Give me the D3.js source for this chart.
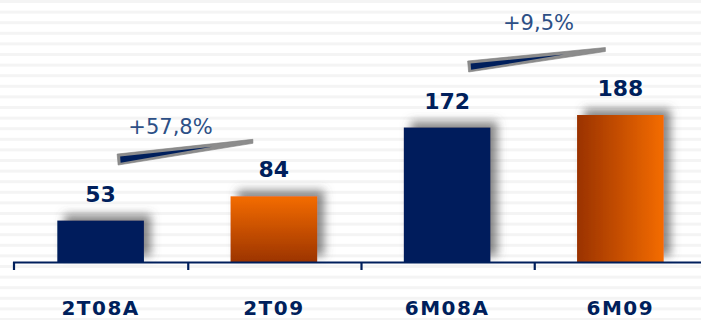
<!DOCTYPE html>
<html>
<head>
<meta charset="utf-8">
<script src="https://cdn.jsdelivr.net/npm/d3@7"></script>
<style>
  html, body { margin: 0; padding: 0; background: #fff; }
  svg { display: block; font-family: "DejaVu Sans", Verdana, sans-serif; }
</style>
</head>
<body>
<svg id="chart" width="701" height="320"></svg>
<script>
// Periods and their values
const categories = ["2T08A", "2T09", "6M08A", "6M09"];
const values = [53, 84, 172, 188];
// Fill style per bar: solid navy, vertical orange, solid navy, horizontal orange
const fillKinds = ["navy", "orangeV", "navy", "orangeH"];
// Growth annotations between pairs of bars
const growthFrom = [0, 2];
const growthTo = [1, 3];
const growthLabels = ["+57,8%", "+9,5%"];

const W = 701, H = 320;
const navy = "#001f5c";
const svg = d3.select("#chart");
const defs = svg.append("defs");

// Striped background
const stripeY = d3.range(0, H, 10.6);
svg.append("g").selectAll("rect").data(stripeY).join("rect")
  .attr("x", 0).attr("y", d => d)
  .attr("width", W).attr("height", 3)
  .attr("fill", "#f4f4f4");

// Gradients
const gV = defs.append("linearGradient").attr("id", "orangeV")
  .attr("x1", 0).attr("y1", 0).attr("x2", 0).attr("y2", 1);
gV.append("stop").attr("offset", "0%").attr("stop-color", "#f46c00");
gV.append("stop").attr("offset", "100%").attr("stop-color", "#9c3400");
const gH = defs.append("linearGradient").attr("id", "orangeH")
  .attr("x1", 0).attr("y1", 0).attr("x2", 1).attr("y2", 0);
gH.append("stop").attr("offset", "0%").attr("stop-color", "#9a3200");
gH.append("stop").attr("offset", "100%").attr("stop-color", "#f46c00");

// Soft shadow behind the bars
const f = defs.append("filter").attr("id", "shadow")
  .attr("x", "-30%").attr("y", "-40%").attr("width", "160%").attr("height", "180%");
f.append("feDropShadow").attr("dx", 7).attr("dy", -6)
  .attr("stdDeviation", 5).attr("flood-color", "#555").attr("flood-opacity", 0.7);

const baseY = 262;
const x = d3.scaleBand().domain(categories).range([14, 707])
  .paddingInner(0.5).paddingOuter(0.25);
const y = d3.scaleLinear().domain([0, 188]).range([baseY, 115]);

const fillOf = k => k === "navy" ? navy : `url(#${k})`;

// Bars
svg.append("g").selectAll("rect").data(values).join("rect")
  .attr("x", (d, i) => x(categories[i]))
  .attr("y", d => y(d))
  .attr("width", x.bandwidth())
  .attr("height", d => baseY - y(d))
  .attr("fill", (d, i) => fillOf(fillKinds[i]))
  .attr("filter", "url(#shadow)");

// Value labels
svg.append("g").selectAll("text").data(values).join("text")
  .attr("x", (d, i) => x(categories[i]) + x.bandwidth() / 2)
  .attr("y", d => y(d) - 19)
  .attr("text-anchor", "middle")
  .attr("font-size", 22).attr("font-weight", "bold")
  .attr("fill", navy)
  .text(d => d);

// Category axis with boundary ticks
const axisG = svg.append("g");
axisG.append("line").attr("x1", 13).attr("x2", W)
  .attr("y1", baseY + 0.5).attr("y2", baseY + 0.5)
  .attr("stroke", navy).attr("stroke-width", 2.2);
const step = x.step();
const tickX = categories.map(c => x(c) - x.paddingInner() * step / 2);
tickX[0] = 13;
axisG.selectAll("line.tick").data(tickX).join("line").attr("class", "tick")
  .attr("x1", d => d + 1).attr("x2", d => d + 1)
  .attr("y1", baseY).attr("y2", baseY + 8)
  .attr("stroke", navy).attr("stroke-width", 2.2);
axisG.selectAll("text").data(categories).join("text")
  .attr("x", d => x(d) + x.bandwidth() / 2)
  .attr("y", 315)
  .attr("text-anchor", "middle")
  .attr("font-size", 20).attr("font-weight", "bold")
  .attr("letter-spacing", 1.5)
  .attr("fill", navy)
  .text(d => d);

// Growth wedges: thick at the earlier bar, tapering toward the later one
const wedgeLayout = [
  { lx: 16.5, ly: 61, rx: -21, ry: 55, tx: -14.5, ty: 25.5 },
  { lx: 20.5, ly: 61, rx: -15, ry: 65.5, tx: 2, ty: 36.5 }
];
const wg = svg.append("g");
growthLabels.forEach((lab, i) => {
  const a = growthFrom[i], b = growthTo[i], L = wedgeLayout[i];
  const x0 = x(categories[a]) + x.bandwidth() / 2 + L.lx;
  const y0 = y(values[a]) - L.ly;
  const x1 = x(categories[b]) + x.bandwidth() / 2 + L.rx;
  const y1 = y(values[b]) - L.ry;
  const t = 0.7;
  const xt = x0 + t * (x1 - x0), yt = y0 + t * (y1 - y0);
  const outer = [[x0, y0 - 5.5], [x1, y1 - 2], [x1, y1 + 2], [x0 + 1, y0 + 5.5]];
  const inner = [[x0 + 3, y0 - 3], [xt, yt], [x0 + 3.5, y0 + 3.2]];
  wg.append("polygon").attr("points", outer.map(p => p.join(",")).join(" "))
    .attr("fill", "#8c8c8c").attr("stroke", "#7c7c7c").attr("stroke-width", 0.6);
  wg.append("polygon").attr("points", inner.map(p => p.join(",")).join(" "))
    .attr("fill", navy);
  wg.append("text")
    .attr("x", (x0 + x1) / 2 + L.tx)
    .attr("y", y0 - L.ty)
    .attr("text-anchor", "middle")
    .attr("font-size", 21)
    .attr("fill", "#2c4f86")
    .text(lab);
});
</script>
</body>
</html>
